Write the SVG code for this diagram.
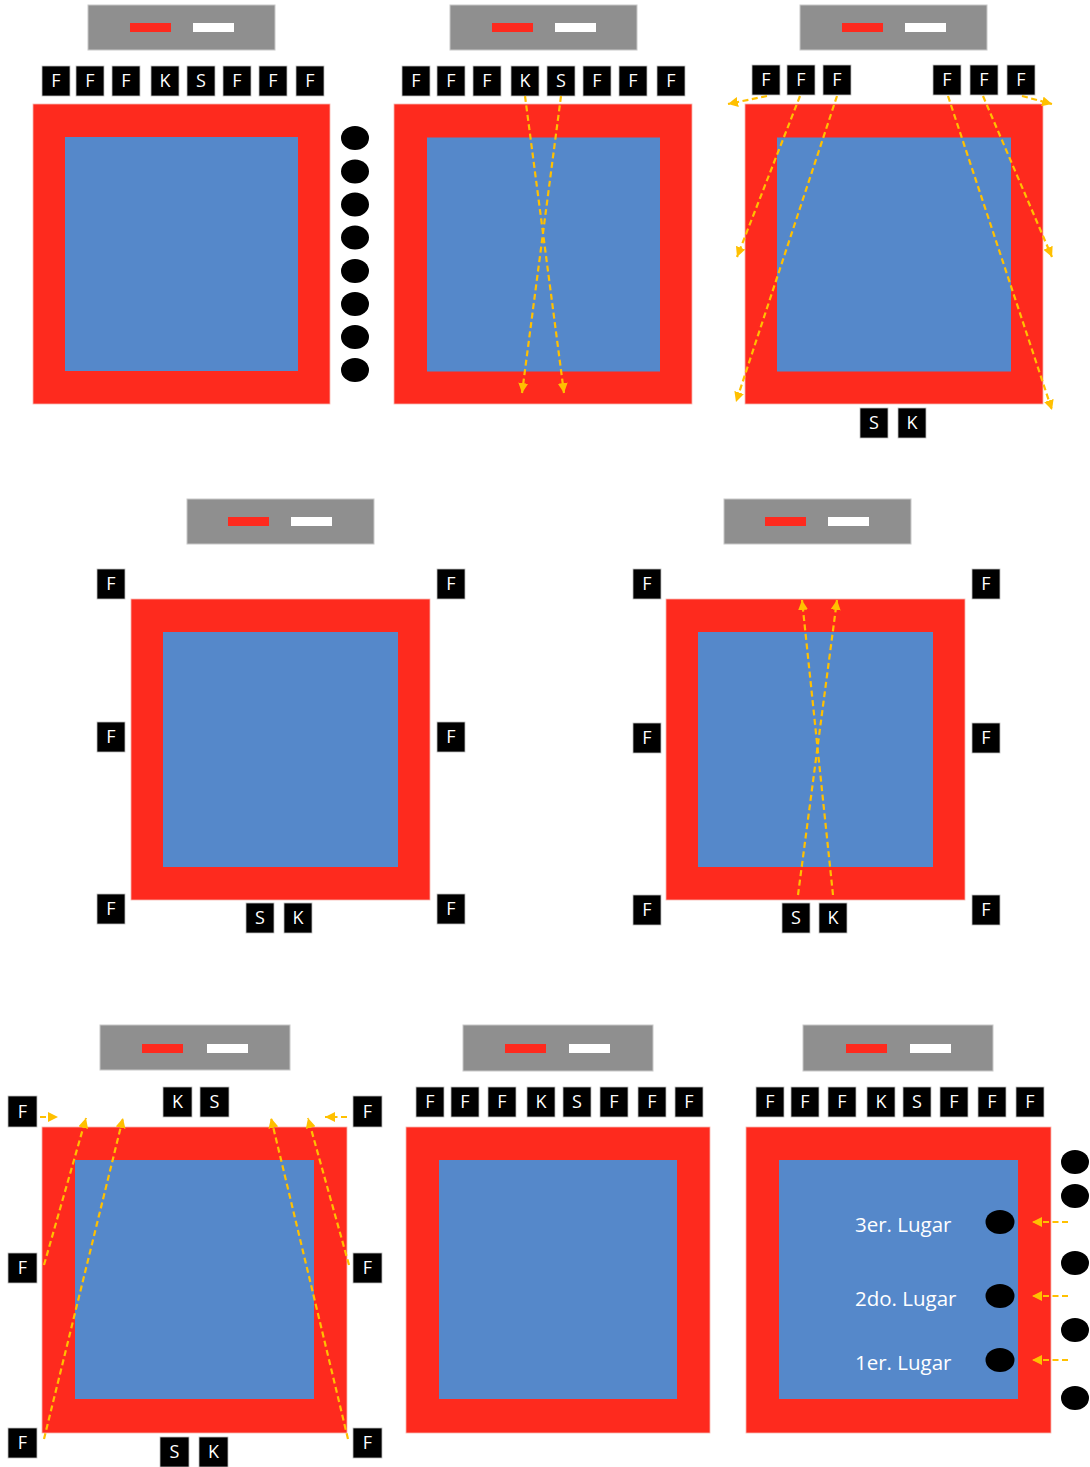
<svg xmlns="http://www.w3.org/2000/svg" width="1090" height="1467" viewBox="0 0 1090 1467">
<style>
.bar{fill:#8F8F8F;stroke:#C8C8C8;stroke-width:1}
.rb{fill:#FE2A1E}
.wb{fill:#FFFFFF}
.box{fill:#000000;stroke:#BFBFBF;stroke-width:0.8}
.lbl{fill:#FFFFFF;font-family:"Open Sans","DejaVu Sans",sans-serif;font-size:18px;text-anchor:middle}
.red{fill:#FE2A1E;stroke:#F7B6B0;stroke-width:0.8}
.blue{fill:#5588CA}
.dot{fill:#000000}
.place{fill:#FFFFFF;font-family:"Open Sans","DejaVu Sans",sans-serif;font-size:20.5px}
.arr{fill:none;stroke:#FFC000;stroke-width:2.2;stroke-dasharray:6 3.5;marker-end:url(#ah)}
</style>
<defs>
<marker id="ah" markerUnits="userSpaceOnUse" markerWidth="10" markerHeight="10" refX="10" refY="5" orient="auto">
<path d="M0,0 L10,5 L0,10 z" fill="#FFC000"/>
</marker>
</defs>

<!-- Panel 1 -->
<g id="p1">
<rect class="bar" x="88" y="5" width="187" height="45"/>
<rect class="rb" x="130" y="23" width="41" height="9"/>
<rect class="wb" x="193" y="23" width="41" height="9"/>
<rect class="red" x="33" y="104" width="297" height="300"/>
<rect class="blue" x="65" y="137" width="233" height="234"/>
<g id="p1-boxes">
<rect class="box" x="42" y="66" width="28" height="30"/><text class="lbl" x="56" y="87">F</text>
<rect class="box" x="76" y="66" width="28" height="30"/><text class="lbl" x="90" y="87">F</text>
<rect class="box" x="112" y="66" width="28" height="30"/><text class="lbl" x="126" y="87">F</text>
<rect class="box" x="151" y="66" width="28" height="30"/><text class="lbl" x="165" y="87">K</text>
<rect class="box" x="187" y="66" width="28" height="30"/><text class="lbl" x="201" y="87">S</text>
<rect class="box" x="223" y="66" width="28" height="30"/><text class="lbl" x="237" y="87">F</text>
<rect class="box" x="259" y="66" width="28" height="30"/><text class="lbl" x="273" y="87">F</text>
<rect class="box" x="296" y="66" width="28" height="30"/><text class="lbl" x="310" y="87">F</text>
</g>
<g id="p1-dots">
<ellipse class="dot" cx="355" cy="138" rx="14" ry="12"/>
<ellipse class="dot" cx="355" cy="171.5" rx="14" ry="12"/>
<ellipse class="dot" cx="355" cy="204.5" rx="14" ry="12"/>
<ellipse class="dot" cx="355" cy="237.5" rx="14" ry="12"/>
<ellipse class="dot" cx="355" cy="271" rx="14" ry="12"/>
<ellipse class="dot" cx="355" cy="304" rx="14" ry="12"/>
<ellipse class="dot" cx="355" cy="337" rx="14" ry="12"/>
<ellipse class="dot" cx="355" cy="370" rx="14" ry="12"/>
</g>
</g>

<!-- Panel 2 -->
<g id="p2">
<rect class="bar" x="450" y="5" width="187" height="45"/>
<rect class="rb" x="492" y="23" width="41" height="9"/>
<rect class="wb" x="555" y="23" width="41" height="9"/>
<rect class="red" x="394" y="104" width="298" height="300"/>
<rect class="blue" x="427" y="137.5" width="233" height="234"/>
<g id="p2-boxes">
<rect class="box" x="402" y="66" width="28" height="30"/><text class="lbl" x="416" y="87">F</text>
<rect class="box" x="437" y="66" width="28" height="30"/><text class="lbl" x="451" y="87">F</text>
<rect class="box" x="473" y="66" width="28" height="30"/><text class="lbl" x="487" y="87">F</text>
<rect class="box" x="511" y="66" width="28" height="30"/><text class="lbl" x="525" y="87">K</text>
<rect class="box" x="547" y="66" width="28" height="30"/><text class="lbl" x="561" y="87">S</text>
<rect class="box" x="583" y="66" width="28" height="30"/><text class="lbl" x="597" y="87">F</text>
<rect class="box" x="619" y="66" width="28" height="30"/><text class="lbl" x="633" y="87">F</text>
<rect class="box" x="657" y="66" width="28" height="30"/><text class="lbl" x="671" y="87">F</text>
</g>
</g>

<!-- Panel 3 -->
<g id="p3">
<rect class="bar" x="800" y="5" width="187" height="45"/>
<rect class="rb" x="842" y="23" width="41" height="9"/>
<rect class="wb" x="905" y="23" width="41" height="9"/>
<rect class="red" x="745" y="104" width="298" height="300"/>
<rect class="blue" x="777" y="137.5" width="234" height="234"/>
<g id="p3-boxes">
<rect class="box" x="752" y="65" width="28" height="30"/><text class="lbl" x="766" y="86">F</text>
<rect class="box" x="787" y="65" width="28" height="30"/><text class="lbl" x="801" y="86">F</text>
<rect class="box" x="823" y="65" width="28" height="30"/><text class="lbl" x="837" y="86">F</text>
<rect class="box" x="933" y="65" width="28" height="30"/><text class="lbl" x="947" y="86">F</text>
<rect class="box" x="970" y="65" width="28" height="30"/><text class="lbl" x="984" y="86">F</text>
<rect class="box" x="1007" y="65" width="28" height="30"/><text class="lbl" x="1021" y="86">F</text>
<rect class="box" x="860" y="408" width="28" height="30"/><text class="lbl" x="874" y="429">S</text>
<rect class="box" x="898" y="408" width="28" height="30"/><text class="lbl" x="912" y="429">K</text>
</g>
</g>

<!-- Panel 4 -->
<g id="p4">
<rect class="bar" x="187" y="499" width="187" height="45"/>
<rect class="rb" x="228" y="517" width="41" height="9"/>
<rect class="wb" x="291" y="517" width="41" height="9"/>
<rect class="red" x="131" y="599" width="299" height="301"/>
<rect class="blue" x="163" y="632" width="235" height="235"/>
<g id="p4-boxes">
<rect class="box" x="97" y="569" width="28" height="30"/><text class="lbl" x="111" y="590">F</text>
<rect class="box" x="97" y="722" width="28" height="30"/><text class="lbl" x="111" y="743">F</text>
<rect class="box" x="97" y="894" width="28" height="30"/><text class="lbl" x="111" y="915">F</text>
<rect class="box" x="437" y="569" width="28" height="30"/><text class="lbl" x="451" y="590">F</text>
<rect class="box" x="437" y="722" width="28" height="30"/><text class="lbl" x="451" y="743">F</text>
<rect class="box" x="437" y="894" width="28" height="30"/><text class="lbl" x="451" y="915">F</text>
<rect class="box" x="246" y="903" width="28" height="30"/><text class="lbl" x="260" y="924">S</text>
<rect class="box" x="284" y="903" width="28" height="30"/><text class="lbl" x="298" y="924">K</text>
</g>
</g>

<!-- Panel 5 -->
<g id="p5">
<rect class="bar" x="724" y="499" width="187" height="45"/>
<rect class="rb" x="765" y="517" width="41" height="9"/>
<rect class="wb" x="828" y="517" width="41" height="9"/>
<rect class="red" x="666" y="599" width="299" height="301"/>
<rect class="blue" x="698" y="632" width="235" height="235"/>
<g id="p5-boxes">
<rect class="box" x="633" y="569" width="28" height="30"/><text class="lbl" x="647" y="590">F</text>
<rect class="box" x="633" y="723" width="28" height="30"/><text class="lbl" x="647" y="744">F</text>
<rect class="box" x="633" y="895" width="28" height="30"/><text class="lbl" x="647" y="916">F</text>
<rect class="box" x="972" y="569" width="28" height="30"/><text class="lbl" x="986" y="590">F</text>
<rect class="box" x="972" y="723" width="28" height="30"/><text class="lbl" x="986" y="744">F</text>
<rect class="box" x="972" y="895" width="28" height="30"/><text class="lbl" x="986" y="916">F</text>
<rect class="box" x="782" y="903" width="28" height="30"/><text class="lbl" x="796" y="924">S</text>
<rect class="box" x="819" y="903" width="28" height="30"/><text class="lbl" x="833" y="924">K</text>
</g>
</g>

<!-- Panel 6 -->
<g id="p6">
<rect class="bar" x="100" y="1025" width="190" height="45"/>
<rect class="rb" x="142" y="1044" width="41" height="9"/>
<rect class="wb" x="207" y="1044" width="41" height="9"/>
<rect class="red" x="42" y="1127" width="305" height="306"/>
<rect class="blue" x="75" y="1160" width="239" height="239"/>
<g id="p6-boxes">
<rect class="box" x="8" y="1096" width="29" height="31"/><text class="lbl" x="22.5" y="1118">F</text>
<rect class="box" x="8" y="1253" width="29" height="30"/><text class="lbl" x="22.5" y="1274">F</text>
<rect class="box" x="8" y="1428" width="29" height="30"/><text class="lbl" x="22.5" y="1449">F</text>
<rect class="box" x="353" y="1096" width="29" height="31"/><text class="lbl" x="367.5" y="1118">F</text>
<rect class="box" x="353" y="1253" width="29" height="30"/><text class="lbl" x="367.5" y="1274">F</text>
<rect class="box" x="353" y="1428" width="29" height="30"/><text class="lbl" x="367.5" y="1449">F</text>
<rect class="box" x="163" y="1087" width="29" height="30"/><text class="lbl" x="177.5" y="1108">K</text>
<rect class="box" x="200" y="1087" width="29" height="30"/><text class="lbl" x="214.5" y="1108">S</text>
<rect class="box" x="160" y="1437" width="29" height="30"/><text class="lbl" x="174.5" y="1458">S</text>
<rect class="box" x="199" y="1437" width="29" height="30"/><text class="lbl" x="213.5" y="1458">K</text>
</g>
</g>

<!-- Panel 7 -->
<g id="p7">
<rect class="bar" x="463" y="1025" width="190" height="46"/>
<rect class="rb" x="505" y="1044" width="41" height="9"/>
<rect class="wb" x="569" y="1044" width="41" height="9"/>
<rect class="red" x="406" y="1127" width="304" height="306"/>
<rect class="blue" x="439" y="1160" width="238" height="239"/>
<g id="p7-boxes">
<rect class="box" x="416" y="1087" width="28" height="30"/><text class="lbl" x="430" y="1108">F</text>
<rect class="box" x="451" y="1087" width="28" height="30"/><text class="lbl" x="465" y="1108">F</text>
<rect class="box" x="488" y="1087" width="28" height="30"/><text class="lbl" x="502" y="1108">F</text>
<rect class="box" x="527" y="1087" width="28" height="30"/><text class="lbl" x="541" y="1108">K</text>
<rect class="box" x="563" y="1087" width="28" height="30"/><text class="lbl" x="577" y="1108">S</text>
<rect class="box" x="600" y="1087" width="28" height="30"/><text class="lbl" x="614" y="1108">F</text>
<rect class="box" x="638" y="1087" width="28" height="30"/><text class="lbl" x="652" y="1108">F</text>
<rect class="box" x="675" y="1087" width="28" height="30"/><text class="lbl" x="689" y="1108">F</text>
</g>
</g>

<!-- Panel 8 -->
<g id="p8">
<rect class="bar" x="803" y="1025" width="190" height="46"/>
<rect class="rb" x="846" y="1044" width="41" height="9"/>
<rect class="wb" x="910" y="1044" width="41" height="9"/>
<rect class="red" x="746" y="1127" width="305" height="306"/>
<rect class="blue" x="779" y="1160" width="239" height="239"/>
<g id="p8-boxes">
<rect class="box" x="756" y="1087" width="28" height="30"/><text class="lbl" x="770" y="1108">F</text>
<rect class="box" x="791" y="1087" width="28" height="30"/><text class="lbl" x="805" y="1108">F</text>
<rect class="box" x="828" y="1087" width="28" height="30"/><text class="lbl" x="842" y="1108">F</text>
<rect class="box" x="867" y="1087" width="28" height="30"/><text class="lbl" x="881" y="1108">K</text>
<rect class="box" x="903" y="1087" width="28" height="30"/><text class="lbl" x="917" y="1108">S</text>
<rect class="box" x="940" y="1087" width="28" height="30"/><text class="lbl" x="954" y="1108">F</text>
<rect class="box" x="978" y="1087" width="28" height="30"/><text class="lbl" x="992" y="1108">F</text>
<rect class="box" x="1016" y="1087" width="28" height="30"/><text class="lbl" x="1030" y="1108">F</text>
</g>
<g id="p8-places">
<text class="place" x="855" y="1232">3er. Lugar</text>
<text class="place" x="855" y="1306">2do. Lugar</text>
<text class="place" x="855" y="1370">1er. Lugar</text>
<ellipse class="dot" cx="1000" cy="1222" rx="14.5" ry="12"/>
<ellipse class="dot" cx="1000" cy="1296" rx="14.5" ry="12"/>
<ellipse class="dot" cx="1000" cy="1360" rx="14.5" ry="12"/>
</g>
<g id="p8-dots">
<ellipse class="dot" cx="1075" cy="1162" rx="14" ry="12"/>
<ellipse class="dot" cx="1075" cy="1196" rx="14" ry="12"/>
<ellipse class="dot" cx="1075" cy="1263" rx="14" ry="12"/>
<ellipse class="dot" cx="1075" cy="1330" rx="14" ry="12"/>
<ellipse class="dot" cx="1075" cy="1398" rx="14" ry="12"/>
</g>
</g>

<!-- Connectors -->
<g id="connectors">
<line class="arr" x1="525" y1="96" x2="564" y2="393"/>
<line class="arr" x1="561" y1="96" x2="522" y2="393"/>

<line class="arr" x1="767" y1="96" x2="728" y2="104"/>
<line class="arr" x1="800" y1="96" x2="737" y2="257"/>
<line class="arr" x1="837" y1="96" x2="736" y2="402"/>
<line class="arr" x1="948" y1="96" x2="1052" y2="410"/>
<line class="arr" x1="983" y1="96" x2="1052" y2="257"/>
<line class="arr" x1="1022" y1="96" x2="1052" y2="104"/>

<line class="arr" x1="798" y1="895" x2="837" y2="600"/>
<line class="arr" x1="833" y1="895" x2="802" y2="600"/>

<line class="arr" x1="40" y1="1117" x2="58" y2="1117"/>
<line class="arr" x1="44" y1="1265" x2="86" y2="1118"/>
<line class="arr" x1="44" y1="1439" x2="123" y2="1118"/>
<line class="arr" x1="348" y1="1439" x2="271" y2="1118"/>
<line class="arr" x1="349" y1="1265" x2="308" y2="1118"/>
<line class="arr" x1="347" y1="1117" x2="325" y2="1117"/>

<line class="arr" x1="1068" y1="1222" x2="1032" y2="1222"/>
<line class="arr" x1="1068" y1="1296" x2="1032" y2="1296"/>
<line class="arr" x1="1068" y1="1360" x2="1032" y2="1360"/>
</g>
</svg>
